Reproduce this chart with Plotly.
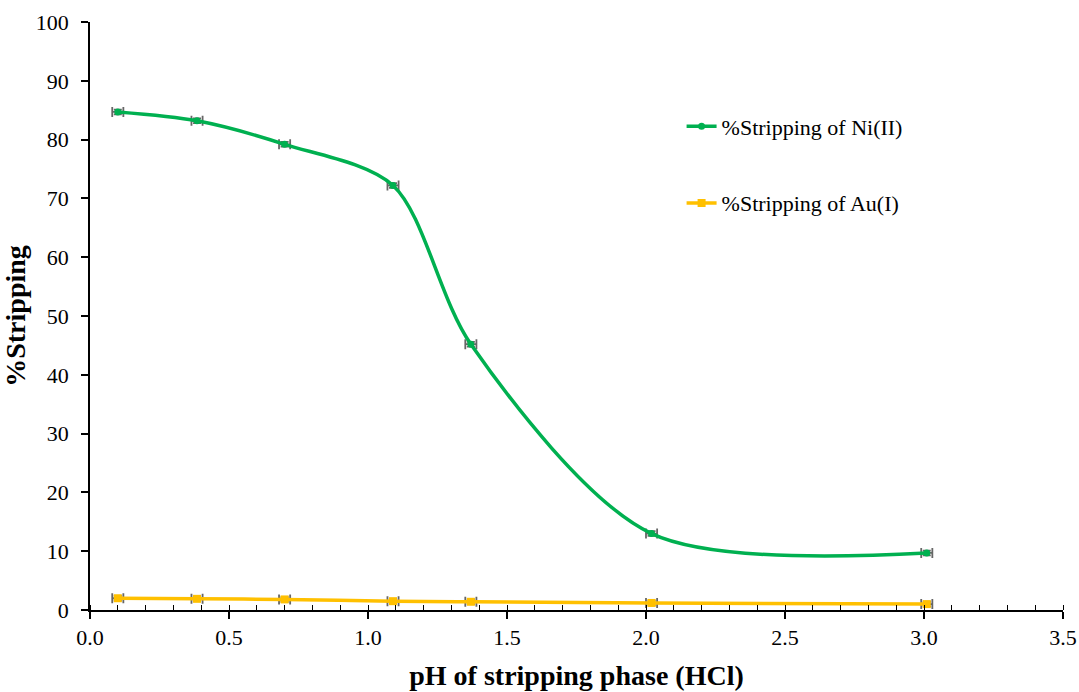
import plotly.graph_objects as go

ph = [0.10, 0.385, 0.70, 1.09, 1.37, 2.02, 3.01]
ni = [84.7, 83.2, 79.2, 72.2, 45.2, 13.0, 9.7]
au = [2.0, 1.9, 1.8, 1.5, 1.4, 1.2, 1.0]
x_err = [0.02] * 7
y_err = [0.4] * 7

fig = go.Figure()
fig.add_trace(go.Scatter(
    x=ph, y=ni, mode="lines+markers", name="%Stripping of Ni(II)",
    line=dict(color="#00B050", width=3.5, shape="spline", smoothing=0.85),
    marker=dict(symbol="circle", size=7, color="#00B050"),
    error_x=dict(type="data", array=x_err, color="#666666", thickness=1.8, width=5),
    error_y=dict(type="data", array=y_err, color="#666666", thickness=1.8, width=4),
    legendgroup="ni",
))
fig.add_trace(go.Scatter(
    x=ph, y=au, mode="lines+markers", name="%Stripping of Au(I)",
    line=dict(color="#FFC000", width=3.5, shape="spline", smoothing=0.85),
    marker=dict(symbol="square", size=8, color="#FFC000"),
    error_x=dict(type="data", array=x_err, color="#666666", thickness=1.8, width=5),
    error_y=dict(type="data", array=y_err, color="#666666", thickness=1.8, width=4),
    legendgroup="au",
))

font_family = "Liberation Serif, Times New Roman, serif"
fig.update_layout(
    width=1079, height=692,
    margin=dict(l=90, r=16, t=22, b=82),
    paper_bgcolor="white", plot_bgcolor="white",
    font=dict(family=font_family, size=22, color="black"),
    showlegend=True,
    legend=dict(x=0.608, y=0.858, xanchor="left", yanchor="top",
                bgcolor="rgba(0,0,0,0)", font=dict(size=22, family=font_family),
                tracegroupgap=45, traceorder="grouped"),
    xaxis=dict(
        range=[0, 3.5], dtick=0.5, tickformat=".1f",
        showline=True, linecolor="black", linewidth=1.5,
        ticks="outside", ticklen=7, tickwidth=1.5, tickcolor="black",
        minor=dict(dtick=0.1, ticks="inside", ticklen=5, tickwidth=1, tickcolor="black"),
        showgrid=False, zeroline=False,
        title=dict(text="<b>pH of stripping phase (HCl)</b>", font=dict(size=28, family=font_family), standoff=16),
        tickfont=dict(size=22, family=font_family),
        automargin=False,
    ),
    yaxis=dict(
        range=[0, 100], dtick=10,
        showline=True, linecolor="black", linewidth=1.5,
        ticks="outside", ticklen=7, tickwidth=1.5, tickcolor="black",
        ticklabelstandoff=8,
        showgrid=False, zeroline=False,
        title=dict(text="<b>%Stripping</b>", font=dict(size=28, family=font_family), standoff=2),
        tickfont=dict(size=22, family=font_family),
        automargin=False,
    ),
)
fig.write_html("out.html", config={"displayModeBar": False},
               post_script="document.body.style.margin='0';")
